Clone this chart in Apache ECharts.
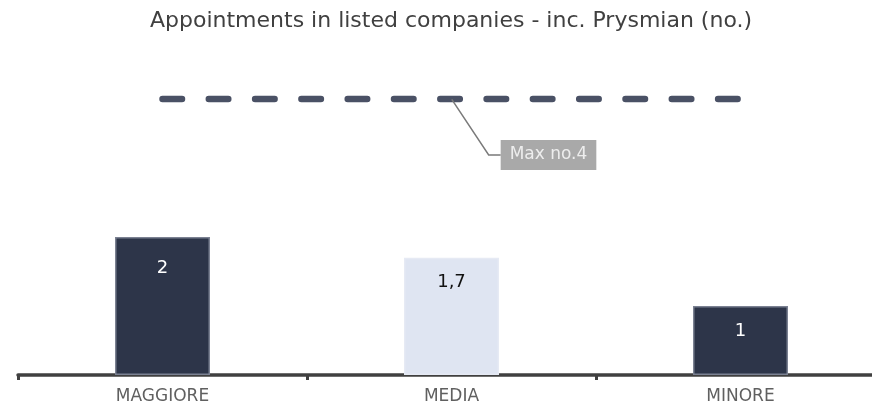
<!DOCTYPE html>
<html>
<head>
<meta charset="utf-8">
<script src="https://cdn.jsdelivr.net/npm/echarts@6/dist/echarts.min.js"></script>
<style>html,body{margin:0;padding:0;background:#fff;overflow:hidden;}#c{width:885px;height:407px;}</style>
</head>
<body>
<div id="c"></div>
<script>
const titleText = 'Appointments in listed companies - inc. Prysmian (no.)';
const categories = ['MAGGIORE', 'MEDIA', 'MINORE'];
const barValues = [2, 1.7, 1];
const barLabels = ['2', '1,7', '1'];
const maxValues = [4, 4, 4];
const maxLabel = 'Max no.4';
const maxLabelIndex = 1;

const barColors = ['#2d3549', '#dfe5f2', '#2d3549'];
const barBorders = ['#7b8192', '#e6eaf4', '#7b8192'];
const labelColors = ['#ffffff', '#111111', '#ffffff'];
const labelDist = [22, 16, 16];

const chart = echarts.init(document.getElementById('c'), null, {renderer: 'canvas'});
const font = 'DejaVu Sans';
chart.setOption({
  animation: false,
  title: {
    text: titleText,
    left: 446,
    textAlign: 'center',
    top: 5,
    textStyle: {fontFamily: font, fontSize: 22, fontWeight: 'normal', color: '#404040'}
  },
  grid: {left: 18, right: 0, top: 30, bottom: 32, containLabel: false},
  xAxis: {
    type: 'category',
    data: categories,
    boundaryGap: true,
    axisLine: {show: true, lineStyle: {color: '#404040', width: 3.5}},
    axisTick: {show: true, length: 5, lineStyle: {color: '#404040', width: 3}},
    axisLabel: {fontFamily: font, fontSize: 17, color: '#606060', margin: 13}
  },
  yAxis: {
    type: 'value', min: 0, max: 5, show: false, splitLine: {show: false}
  },
  series: [
    {
      type: 'bar',
      barWidth: 95,
      data: barValues.map((v, i) => ({
        value: v,
        itemStyle: {color: barColors[i], borderColor: barBorders[i], borderWidth: 1.5},
        label: {
          show: true, position: 'insideTop', distance: labelDist[i],
          formatter: barLabels[i], color: labelColors[i],
          fontFamily: font, fontSize: 18
        }
      }))
    },
    {
      type: 'line',
      data: maxValues,
      symbol: 'none',
      z: 3,
      lineStyle: {color: '#4a5165', width: 6.5, type: [19.5, 26.8], cap: 'round'},
      silent: true
    },
    {
      type: 'scatter',
      z: 4,
      symbolSize: 1,
      itemStyle: {color: 'rgba(0,0,0,0)'},
      data: [[maxLabelIndex, maxValues[maxLabelIndex]]],
      label: {
        show: true, position: 'inside', formatter: maxLabel,
        color: '#ffffff', backgroundColor: '#939393',
        fontFamily: font, fontSize: 17, padding: [7, 9, 6, 9]
      },
      labelLayout: {dx: 97, dy: 56},
      labelLine: {show: true, length2: 12, lineStyle: {color: '#7a7a7a', width: 1.5}}
    }
  ]
});
</script>
</body>
</html>
